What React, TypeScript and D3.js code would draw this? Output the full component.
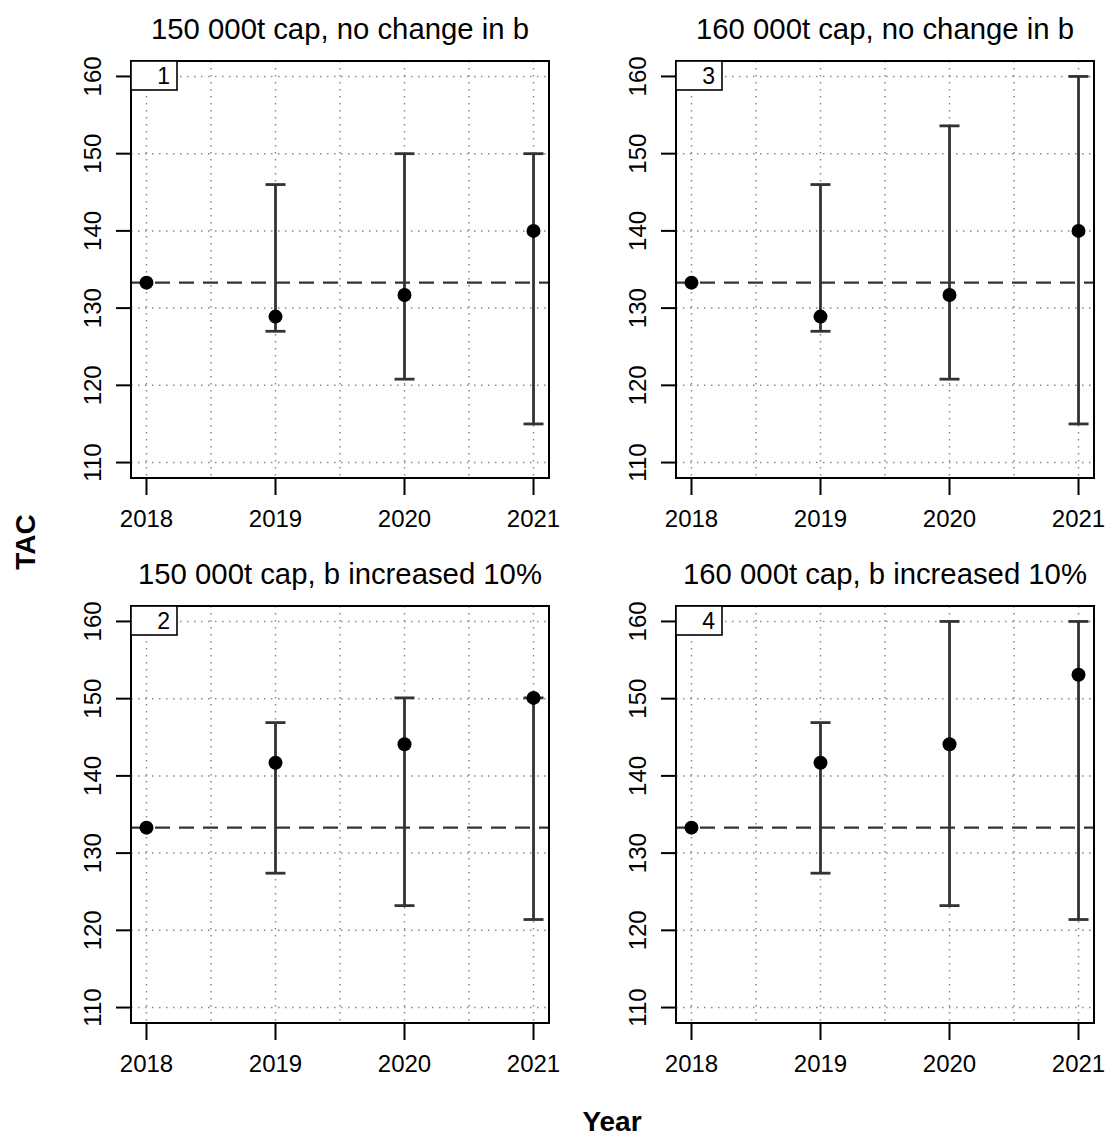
import React, { useEffect, useRef } from 'react'
import * as d3 from 'd3'

const WIDTH = 1108
const HEIGHT = 1139

const PANEL_W = 418
const PANEL_H = 417

const years = [2018, 2019, 2020, 2021]
const yTicks = [110, 120, 130, 140, 150, 160]
const xGrid = [2018, 2018.5, 2019, 2019.5, 2020, 2020.5, 2021]
const refTac = 133.3

const titles = [
  '150 000t cap, no change in b',
  '160 000t cap, no change in b',
  '150 000t cap, b increased 10%',
  '160 000t cap, b increased 10%',
]
const panelLabels = ['1', '3', '2', '4']

// median TAC + interval per scenario (null = no bar)
const mid1 = [133.3, 128.9, 131.7, 140.0]
const low1 = [null, 127.0, 120.8, 115.0]
const high1 = [null, 146.0, 150.0, 150.0]

const mid3 = [133.3, 128.9, 131.7, 140.0]
const low3 = [null, 127.0, 120.8, 115.0]
const high3 = [null, 146.0, 153.6, 160.0]

const mid2 = [133.3, 141.7, 144.1, 150.1]
const low2 = [null, 127.4, 123.2, 121.4]
const high2 = [null, 146.9, 150.1, 150.1]

const mid4 = [133.3, 141.7, 144.1, 153.1]
const low4 = [null, 127.4, 123.2, 121.4]
const high4 = [null, 146.9, 160.0, 160.0]

const panels = [
  { x: 131, y: 61, mid: mid1, low: low1, high: high1 },
  { x: 676, y: 61, mid: mid3, low: low3, high: high3 },
  { x: 131, y: 606, mid: mid2, low: low2, high: high2 },
  { x: 676, y: 606, mid: mid4, low: low4, high: high4 },
]

const FONT = '"Liberation Sans", Arial, sans-serif'

export default function App() {
  const ref = useRef<SVGSVGElement>(null)

  useEffect(() => {
    const svg = d3.select(ref.current)
    svg.selectAll('*').remove()

    // R style: 4% extension of the range
    const xScale = d3.scaleLinear().domain([2017.88, 2021.12]).range([0, PANEL_W])
    const yScale = d3.scaleLinear().domain([108, 162]).range([PANEL_H, 0])

    panels.forEach((p, pi) => {
      const g = svg.append('g').attr('transform', `translate(${p.x}, ${p.y})`)

      // grid
      g.selectAll('.hgrid')
        .data(yTicks)
        .enter()
        .append('line')
        .attr('x1', 0)
        .attr('x2', PANEL_W)
        .attr('y1', (d) => yScale(d))
        .attr('y2', (d) => yScale(d))
        .attr('stroke', '#888')
        .attr('stroke-width', 1.5)
        .attr('stroke-dasharray', '1.5,5.5')

      g.selectAll('.vgrid')
        .data(xGrid)
        .enter()
        .append('line')
        .attr('x1', (d) => xScale(d))
        .attr('x2', (d) => xScale(d))
        .attr('y1', 0)
        .attr('y2', PANEL_H)
        .attr('stroke', '#888')
        .attr('stroke-width', 1.5)
        .attr('stroke-dasharray', '1.5,5.5')

      // reference line
      g.append('line')
        .attr('x1', 0)
        .attr('x2', PANEL_W)
        .attr('y1', yScale(refTac))
        .attr('y2', yScale(refTac))
        .attr('stroke', '#333')
        .attr('stroke-width', 2.2)
        .attr('stroke-dasharray', '15,9')

      // error bars
      const bars = years
        .map((yr, i) => ({ yr, lo: p.low[i], hi: p.high[i] }))
        .filter((d) => d.lo !== null && d.hi !== null)

      const eb = g.selectAll('.eb').data(bars).enter().append('g')
      eb.append('line')
        .attr('x1', (d) => xScale(d.yr))
        .attr('x2', (d) => xScale(d.yr))
        .attr('y1', (d) => yScale(d.lo as number))
        .attr('y2', (d) => yScale(d.hi as number))
        .attr('stroke', '#333')
        .attr('stroke-width', 2.8)
      ;['lo', 'hi'].forEach((k) => {
        eb.append('line')
          .attr('x1', (d) => xScale(d.yr) - 10)
          .attr('x2', (d) => xScale(d.yr) + 10)
          .attr('y1', (d: any) => yScale(d[k]))
          .attr('y2', (d: any) => yScale(d[k]))
          .attr('stroke', '#333')
          .attr('stroke-width', 2.8)
      })

      // points
      g.selectAll('.pt')
        .data(p.mid)
        .enter()
        .append('circle')
        .attr('cx', (d, i) => xScale(years[i]))
        .attr('cy', (d) => yScale(d))
        .attr('r', 7)
        .attr('fill', '#000')

      // box
      g.append('rect')
        .attr('width', PANEL_W)
        .attr('height', PANEL_H)
        .attr('fill', 'none')
        .attr('stroke', '#000')
        .attr('stroke-width', 2)

      // panel number
      g.append('rect')
        .attr('width', 46)
        .attr('height', 29)
        .attr('fill', '#fff')
        .attr('stroke', '#000')
        .attr('stroke-width', 1.6)
      g.append('text')
        .attr('x', 39)
        .attr('y', 23)
        .attr('text-anchor', 'end')
        .attr('font-size', 23)
        .text(panelLabels[pi])

      // y axis
      const ya = g.append('g')
      ya.selectAll('line')
        .data(yTicks)
        .enter()
        .append('line')
        .attr('x1', -15)
        .attr('x2', 0)
        .attr('y1', (d) => yScale(d))
        .attr('y2', (d) => yScale(d))
        .attr('stroke', '#000')
        .attr('stroke-width', 2)
      ya.selectAll('text')
        .data(yTicks)
        .enter()
        .append('text')
        .attr('transform', (d) => `translate(-30, ${yScale(d)}) rotate(-90)`)
        .attr('text-anchor', 'middle')
        .attr('font-size', 24)
        .text((d) => d)

      // x axis
      const xa = g.append('g')
      xa.selectAll('line')
        .data(years)
        .enter()
        .append('line')
        .attr('x1', (d) => xScale(d))
        .attr('x2', (d) => xScale(d))
        .attr('y1', PANEL_H)
        .attr('y2', PANEL_H + 17)
        .attr('stroke', '#000')
        .attr('stroke-width', 2)
      xa.selectAll('text')
        .data(years)
        .enter()
        .append('text')
        .attr('x', (d) => xScale(d))
        .attr('y', PANEL_H + 49)
        .attr('text-anchor', 'middle')
        .attr('font-size', 24)
        .text((d) => d)

      // title
      g.append('text')
        .attr('x', PANEL_W / 2)
        .attr('y', -22)
        .attr('text-anchor', 'middle')
        .attr('font-size', 29.3)
        .text(titles[pi])
    })

    // outer axis labels
    svg.append('text')
      .attr('transform', `translate(35, 542) rotate(-90)`)
      .attr('text-anchor', 'middle')
      .attr('font-size', 28)
      .attr('font-weight', 'bold')
      .text('TAC')

    svg.append('text')
      .attr('x', 612)
      .attr('y', 1131)
      .attr('text-anchor', 'middle')
      .attr('font-size', 28)
      .attr('font-weight', 'bold')
      .text('Year')
  }, [])

  return (
    <svg
      ref={ref}
      width={WIDTH}
      height={HEIGHT}
      style={{ position: 'absolute', left: 0, top: 0, background: '#fff', fontFamily: FONT }}
    ></svg>
  )
}
